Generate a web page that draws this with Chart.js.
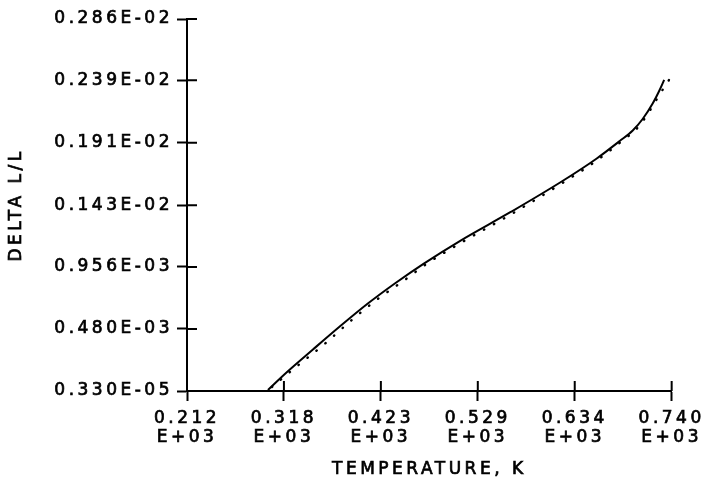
<!DOCTYPE html>
<html>
<head>
<meta charset="utf-8">
<script src="https://cdn.jsdelivr.net/npm/chart.js@4.4.1/dist/chart.umd.min.js"></script>
<style>
  html, body { margin: 0; padding: 0; background: #fff; }
</style>
</head>
<body>
<canvas id="chart" width="704" height="480"></canvas>
<script>
// temperature (K) and delta L/L
const baseTemp = [212, 300.2];
const baseDelta = [0.0000033, 0.0000033];

const solidTemp = [300.2, 319.8, 349.2, 379.7, 409, 438.4, 470, 509.2, 564.7, 620.2, 658.4, 683.4, 697.6, 708.4, 719.3, 726.9, 731.8];
const solidDelta = [0.000011, 0.0001415, 0.000322, 0.000506, 0.000675, 0.000829, 0.000982, 0.001155, 0.001378, 0.001612, 0.001789, 0.001923, 0.002004, 0.002092, 0.002211, 0.002315, 0.002392];

const dotTemp = [304.5, 330.7, 361.2, 390.5, 420.9, 450.4, 470, 509.2, 564.7, 620.2, 658.4, 689.7, 699.9, 707.7, 717.1, 727.7, 737.8];
const dotDelta = [0.000034, 0.0001876, 0.0003604, 0.0005424, 0.000716, 0.000862, 0.000965, 0.001136, 0.001359, 0.001597, 0.001773, 0.0019439, 0.0020022, 0.0020667, 0.0021665, 0.0022894, 0.0023993];

const xTickValues = [212, 317.6, 423.2, 528.8, 634.4, 740];
const xTickLabels = [["0.212", "E+03"], ["0.318", "E+03"], ["0.423", "E+03"], ["0.529", "E+03"], ["0.634", "E+03"], ["0.740", "E+03"]];
const yTickValues = [0.0000033, 0.00048, 0.000956, 0.00143, 0.00191, 0.00239, 0.00286];
const yTickLabels = ["0.330E-05", "0.480E-03", "0.956E-03", "0.143E-02", "0.191E-02", "0.239E-02", "0.286E-02"];

function toPoints(xs, ys) {
    return xs.map((x, i) => ({ x: x, y: ys[i] }));
}

// wide, heavy plotter lettering
const lettering = {
    id: "lettering",
    beforeDraw(chart) {
        const ctx = chart.ctx;
        ctx.letterSpacing = "3.5px";
        if (!ctx._heavyText) {
            const fill = ctx.fillText.bind(ctx);
            ctx.fillText = function (text, x, y, maxWidth) {
                ctx.save();
                ctx.lineWidth = 0.7;
                ctx.strokeStyle = ctx.fillStyle;
                ctx.strokeText(text, x, y, maxWidth);
                ctx.restore();
                fill(text, x, y, maxWidth);
            };
            ctx._heavyText = true;
        }
    }
};

// tick marks cross the axes, so draw the inner half too
const innerTicks = {
    id: "innerTicks",
    afterDraw(chart) {
        const { ctx, chartArea, scales } = chart;
        ctx.save();
        ctx.strokeStyle = "#000";
        ctx.lineWidth = 2;
        ctx.beginPath();
        scales.x.ticks.forEach(t => {
            const px = scales.x.getPixelForValue(t.value);
            ctx.moveTo(px, chartArea.bottom);
            ctx.lineTo(px, chartArea.bottom - 10);
        });
        scales.y.ticks.forEach(t => {
            const py = scales.y.getPixelForValue(t.value);
            ctx.moveTo(chartArea.left, py);
            ctx.lineTo(chartArea.left + 10, py);
        });
        ctx.stroke();
        ctx.restore();
    }
};

const font = { family: "'DejaVu Sans'", size: 17, lineHeight: 1.12 };
const titleFont = { family: "'DejaVu Sans'", size: 17, lineHeight: 1.2 };

const lineStyle = {
    borderColor: "#000",
    borderWidth: 2,
    pointRadius: 0,
    cubicInterpolationMode: "monotone",
    clip: false
};

new Chart(document.getElementById("chart"), {
    type: "line",
    data: {
        datasets: [
            Object.assign({}, lineStyle, {
                data: toPoints(dotTemp, dotDelta),
                borderWidth: 2.4,
                borderDash: [0.5, 11],
                borderCapStyle: "round"
            }),
            Object.assign({}, lineStyle, { data: toPoints(baseTemp, baseDelta) }),
            Object.assign({}, lineStyle, { data: toPoints(solidTemp, solidDelta) })
        ]
    },
    options: {
        responsive: false,
        animation: false,
        layout: { padding: { left: 0, right: 32, top: 19, bottom: 0 } },
        plugins: { legend: { display: false }, tooltip: { enabled: false } },
        scales: {
            x: {
                type: "linear",
                min: 212,
                max: 740,
                afterBuildTicks: scale => { scale.ticks = xTickValues.map(v => ({ value: v })); },
                afterFit: scale => { scale.height = 89; },
                grid: { drawOnChartArea: false, tickLength: 10, tickWidth: 2, tickColor: "#000" },
                border: { color: "#000", width: 2 },
                ticks: {
                    autoSkip: false,
                    maxRotation: 0,
                    padding: 8,
                    color: "#000",
                    font: font,
                    callback: (v, i) => xTickLabels[i]
                },
                title: {
                    display: true,
                    text: "TEMPERATURE, K",
                    color: "#000",
                    font: titleFont,
                    padding: { top: 0, bottom: 0 }
                }
            },
            y: {
                min: 0.0000033,
                max: 0.00286,
                afterBuildTicks: scale => { scale.ticks = yTickValues.map(v => ({ value: v })); },
                afterFit: scale => { scale.width = 187; },
                grid: { drawOnChartArea: false, tickLength: 10, tickWidth: 2, tickColor: "#000" },
                border: { color: "#000", width: 2 },
                ticks: {
                    autoSkip: false,
                    padding: 4,
                    color: "#000",
                    font: font,
                    callback: (v, i) => yTickLabels[i]
                },
                title: {
                    display: true,
                    text: "DELTA L/L",
                    color: "#000",
                    font: titleFont,
                    padding: { top: 6, bottom: 0 }
                }
            }
        }
    },
    plugins: [lettering, innerTicks]
});
</script>
</body>
</html>
